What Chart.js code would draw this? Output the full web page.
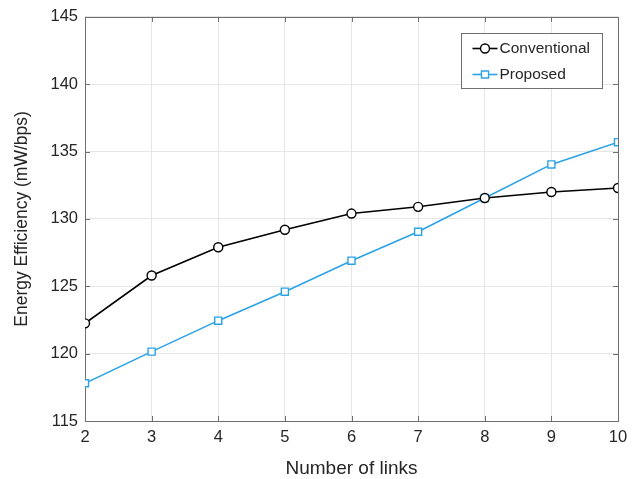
<!DOCTYPE html>
<html>
<head>
<meta charset="utf-8">
<script src="https://cdn.jsdelivr.net/npm/chart.js@4.4.1/dist/chart.umd.min.js"></script>
<style>
  html, body { margin: 0; padding: 0; background: #ffffff; }
  #wrap { width: 640px; height: 479px; position: relative; }
</style>
</head>
<body>
<div id="wrap"><canvas id="c" width="640" height="479"></canvas></div>
<script>
const links = [2, 3, 4, 5, 6, 7, 8, 9, 10];
const conventional = [122.25, 125.8, 127.9, 129.2, 130.4, 130.9, 131.55, 132.0, 132.3];
const proposed = [117.8, 120.15, 122.45, 124.6, 126.9, 129.05, 131.55, 134.05, 135.7];
const seriesNames = ['Conventional', 'Proposed'];
const xTitle = 'Number of links';
const yTitle = 'Energy Efficiency (mW/bps)';
const yMin = 115, yMax = 145, yStep = 5;
const xMin = 2, xMax = 10, xStep = 1;

const FONT = "'Liberation Sans', Arial, Helvetica, sans-serif";
const TEXT = '#262626';
const AXIS = '#6f6f6f';
const BLUE = '#2ba3e6';

const toPts = arr => arr.map((v, i) => ({ x: links[i], y: v }));

const boxPlugin = {
  id: 'matlabBox',
  beforeDatasetsDraw(chart) {
    const { ctx, chartArea: a, scales } = chart;
    ctx.save();
    ctx.strokeStyle = AXIS;
    ctx.lineWidth = 1;
    const tl = 5;
    ctx.beginPath();
    scales.x.ticks.forEach(t => {
      const px = Math.round(scales.x.getPixelForValue(t.value)) + 0.5;
      ctx.moveTo(px, a.bottom); ctx.lineTo(px, a.bottom - tl);
      ctx.moveTo(px, a.top); ctx.lineTo(px, a.top + tl);
    });
    scales.y.ticks.forEach(t => {
      const py = Math.round(scales.y.getPixelForValue(t.value)) + 0.5;
      ctx.moveTo(a.left, py); ctx.lineTo(a.left + tl, py);
      ctx.moveTo(a.right, py); ctx.lineTo(a.right - tl, py);
    });
    ctx.stroke();
    ctx.strokeRect(Math.round(a.left) + 0.5, Math.round(a.top) + 0.5,
                   Math.round(a.right - a.left), Math.round(a.bottom - a.top));
    ctx.restore();
  },
  afterDraw(chart) {
    const { ctx, chartArea: a } = chart;
    const w = 141, h = 55;
    const left = Math.round(a.right - 16 - w) + 0.5;
    const top = Math.round(a.top + 16) + 0.5;
    ctx.save();
    ctx.fillStyle = '#ffffff';
    ctx.fillRect(left, top, w, h);
    ctx.strokeStyle = '#6f6f6f';
    ctx.lineWidth = 1;
    ctx.strokeRect(left, top, w, h);
    ctx.font = "15.5px " + FONT;
    ctx.textBaseline = 'middle';
    ctx.textAlign = 'left';
    chart.data.datasets.forEach((ds, i) => {
      const cy = top + 15 + i * 26;
      ctx.strokeStyle = ds.borderColor;
      ctx.lineWidth = ds.borderWidth;
      ctx.beginPath();
      ctx.moveTo(left + 11, cy); ctx.lineTo(left + 36, cy);
      ctx.stroke();
      const mx = left + 23.5;
      ctx.fillStyle = '#ffffff';
      ctx.lineWidth = ds.pointBorderWidth;
      ctx.beginPath();
      if (ds.pointStyle === 'circle') {
        ctx.arc(mx, cy, ds.pointRadius, 0, Math.PI * 2);
      } else {
        const s = Math.SQRT1_2 * ds.pointRadius;
        ctx.rect(mx - s, cy - s, 2 * s, 2 * s);
      }
      ctx.fill(); ctx.stroke();
      ctx.fillStyle = TEXT;
      ctx.fillText(ds.label, left + 38, cy + 0.5);
    });
    ctx.restore();
  }
};

new Chart(document.getElementById('c'), {
  type: 'line',
  data: {
    datasets: [
      {
        label: seriesNames[0],
        data: toPts(conventional),
        borderColor: '#000000',
        borderWidth: 1.6,
        pointStyle: 'circle',
        pointRadius: 4.5,
        pointBorderWidth: 1.4,
        pointBackgroundColor: '#ffffff',
        pointBorderColor: '#000000',
        tension: 0,
        fill: false
      },
      {
        label: seriesNames[1],
        data: toPts(proposed),
        borderColor: BLUE,
        borderWidth: 1.6,
        pointStyle: 'rect',
        pointRadius: 5,
        pointBorderWidth: 1.4,
        pointBackgroundColor: '#ffffff',
        pointBorderColor: BLUE,
        tension: 0,
        fill: false
      }
    ]
  },
  options: {
    responsive: false,
    animation: false,
    devicePixelRatio: 1,
    layout: { padding: { left: 0, right: 22, top: 14, bottom: 0 } },
    plugins: {
      legend: { display: false },
      tooltip: { enabled: false },
      title: { display: false }
    },
    elements: { line: { clip: false } },
    scales: {
      x: {
        type: 'linear',
        min: xMin, max: xMax,
        border: { display: false },
        grid: { color: '#e6e6e6', drawTicks: false, lineWidth: 1 },
        ticks: {
          stepSize: xStep,
          padding: 7,
          color: TEXT,
          font: { family: FONT, size: 16.5 },
          maxRotation: 0
        },
        title: {
          display: true,
          text: xTitle,
          color: TEXT,
          font: { family: FONT, size: 19 },
          padding: { top: 0, bottom: -1 }
        },
        afterFit(s) { s.height = 58; }
      },
      y: {
        min: yMin, max: yMax,
        border: { display: false },
        grid: { color: '#e6e6e6', drawTicks: false, lineWidth: 1 },
        ticks: {
          stepSize: yStep,
          padding: 7,
          color: TEXT,
          font: { family: FONT, size: 16.5 }
        },
        title: {
          display: true,
          text: yTitle,
          color: TEXT,
          font: { family: FONT, size: 17.5 },
          padding: { top: 12, bottom: 0 }
        },
        afterFit(s) { s.width = 85; }
      }
    }
  },
  plugins: [boxPlugin]
});
</script>
</body>
</html>
